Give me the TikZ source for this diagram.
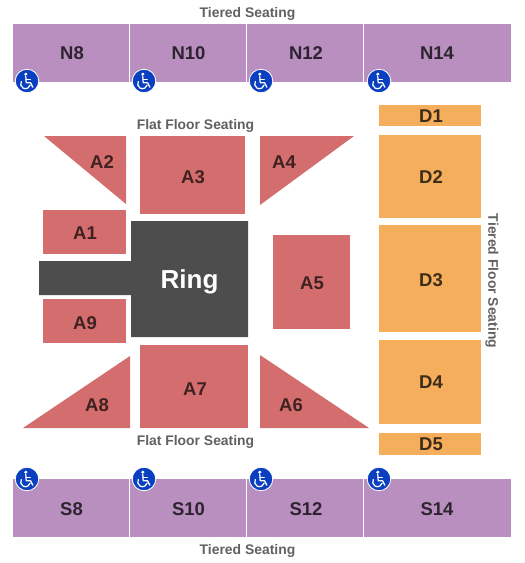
\documentclass[tikz,border=0pt]{standalone}
\usepackage{fontspec}
\setmainfont{Liberation Sans}
\definecolor{purp}{HTML}{B88FBF}
\definecolor{redd}{HTML}{D46E6E}
\definecolor{orng}{HTML}{F4AE5C}
\definecolor{ringc}{HTML}{4D4D4D}
\definecolor{wblue}{HTML}{0A3FC0}
\tikzset{
 x=1pt,y=-1pt,
 lab/.style={font=\bfseries\fontsize{#1}{#1}\selectfont,inner sep=0pt},
 seclab/.style={lab=18.5,text=#1},
 note/.style={lab=13.9,text=black!62},
 purpfill/.style={fill=purp,draw=none},
 redfill/.style={fill=redd,draw=none},
 orngfill/.style={fill=orng,draw=none},
}
\newcommand{\wc}[3]{% name, x, y
 \node[circle,minimum size=23.5pt,inner sep=0pt,fill=wblue,draw=white,line width=0.8pt] (#1) at (#2,#3) {};
 \begin{scope}[shift={(#2,#3)},white,line width=1.25pt,line cap=round,line join=round]
  \fill (-1.2,-6.8) circle (1.7);
  \draw (-1.2,-4.5) -- (-0.8,1.8) -- (3.6,1.8) -- (5.8,6.2);
  \draw (-1,-1.2) -- (3.2,-1.2);
  \draw (-5.7,0.5) arc[start angle=-150,end angle=-345,radius=4.8];
 \end{scope}}
\begin{document}
\begin{tikzpicture}
\useasboundingbox (0,0) rectangle (525,563);
\fill[white] (0,0) rectangle (525,563);
% tiered north
\path[purpfill] (13,24) rectangle (129,82);
\path[purpfill] (130,24) rectangle (246,82);
\path[purpfill] (247,24) rectangle (363,82);
\path[purpfill] (364,24) rectangle (511,82);
\node[seclab=black!75!purp] (n8) at (72,53) {N8};
\node[seclab=black!75!purp] (n10) at (188.5,53) {N10};
\node[seclab=black!75!purp] (n12) at (306,53) {N12};
\node[seclab=black!75!purp] (n14) at (437,53) {N14};
% tiered south
\path[purpfill] (13,479) rectangle (129,537);
\path[purpfill] (130,479) rectangle (246,537);
\path[purpfill] (247,479) rectangle (363,537);
\path[purpfill] (364,479) rectangle (511,537);
\node[seclab=black!75!purp] (s8) at (71.5,509) {S8};
\node[seclab=black!75!purp] (s10) at (188.5,509) {S10};
\node[seclab=black!75!purp] (s12) at (306,509) {S12};
\node[seclab=black!75!purp] (s14) at (437,509) {S14};
% red
\path[redfill] (44,136) -- (126,136) -- (126,204) -- cycle;
\path[redfill] (140,136) rectangle (245,214);
\path[redfill] (260,136) -- (354,136) -- (260,205) -- cycle;
\path[redfill] (43,210) rectangle (126,254);
\path[redfill] (43,299) rectangle (126,343);
\path[redfill] (273,235) rectangle (350,329);
\path[redfill] (130,356) -- (130,428) -- (23,428) -- cycle;
\path[redfill] (140,345) rectangle (248,428);
\path[redfill] (260,355) -- (369,428) -- (260,428) -- cycle;
\node[seclab=black!70!redd] (a1) at (85,233) {A1};
\node[seclab=black!70!redd] (a2) at (102,162) {A2};
\node[seclab=black!70!redd] (a3) at (193,177) {A3};
\node[seclab=black!70!redd] (a4) at (284,162) {A4};
\node[seclab=black!70!redd] (a5) at (312,283) {A5};
\node[seclab=black!70!redd] (a6) at (291,405) {A6};
\node[seclab=black!70!redd] (a7) at (195,389.5) {A7};
\node[seclab=black!70!redd] (a8) at (97,405.5) {A8};
\node[seclab=black!70!redd] (a9) at (85,323) {A9};
% ring
\path[fill=ringc] (131,221) -- (248,221) -- (248,337) -- (131,337) -- (131,295) -- (39,295) -- (39,261) -- (131,261) -- cycle;
\node[lab=26,text=white] (ring) at (189.5,282) {Ring};
% D
\path[orngfill] (379,105) rectangle (481,126);
\path[orngfill] (379,135) rectangle (481,218);
\path[orngfill] (379,225) rectangle (481,332);
\path[orngfill] (379,340) rectangle (481,424);
\path[orngfill] (379,433) rectangle (481,455);
\node[seclab=black!75!orng] (d1) at (431,116) {D1};
\node[seclab=black!75!orng] (d2) at (431,177.5) {D2};
\node[seclab=black!75!orng] (d3) at (431,280.5) {D3};
\node[seclab=black!75!orng] (d4) at (431,382.5) {D4};
\node[seclab=black!75!orng] (d5) at (431,444) {D5};
% notes
\node[note] (t1) at (247.5,14) {Tiered Seating};
\node[note] (t2) at (247.5,551) {Tiered Seating};
\node[note] (f1) at (195.5,126) {Flat Floor Seating};
\node[note] (f2) at (195.5,442) {Flat Floor Seating};
\node[note,rotate=-90] (t3) at (492,281) {Tiered Floor Seating};
% wheelchairs
\wc{w1}{27}{81}\wc{w2}{144}{81}\wc{w3}{261}{81}\wc{w4}{379}{81}
\wc{w5}{27}{479}\wc{w6}{144}{479}\wc{w7}{261}{479}\wc{w8}{379}{479}
\end{tikzpicture}
\end{document}
